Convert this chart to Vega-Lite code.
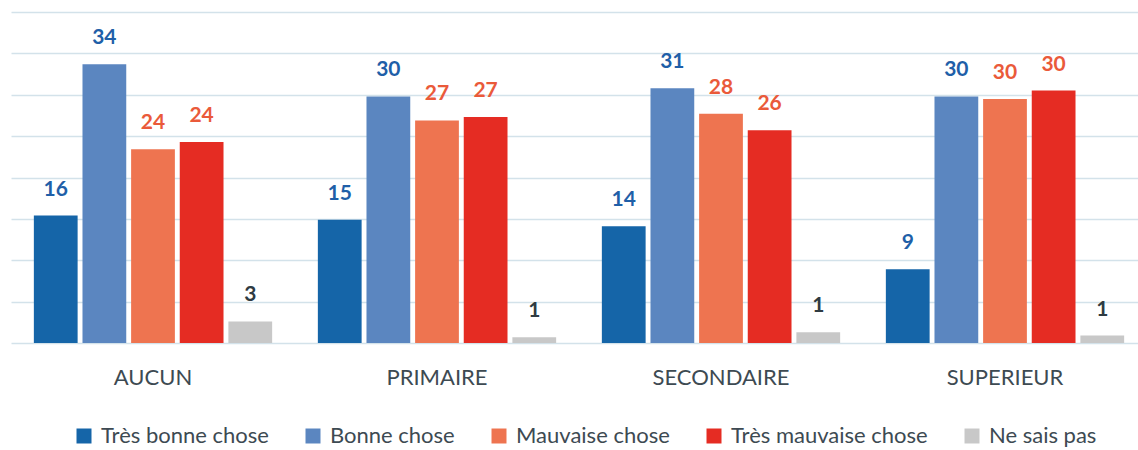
{
  "$schema": "https://vega.github.io/schema/vega-lite/v6.json",
  "width": 1127,
  "height": 331,
  "autosize": {"type": "none"},
  "padding": {"left": 11, "top": 12, "right": 0, "bottom": 107},
  "config": {"view": {"stroke": null}, "font": "Lato"},
  "data": {
    "values": [
      {"niveau": "AUCUN", "reponse": "Très bonne chose", "valeur": 15.4, "label": 16},
      {"niveau": "AUCUN", "reponse": "Bonne chose", "valeur": 33.7, "label": 34},
      {"niveau": "AUCUN", "reponse": "Mauvaise chose", "valeur": 23.4, "label": 24},
      {"niveau": "AUCUN", "reponse": "Très mauvaise chose", "valeur": 24.3, "label": 24},
      {"niveau": "AUCUN", "reponse": "Ne sais pas", "valeur": 2.6, "label": 3},
      {"niveau": "PRIMAIRE", "reponse": "Très bonne chose", "valeur": 14.9, "label": 15},
      {"niveau": "PRIMAIRE", "reponse": "Bonne chose", "valeur": 29.8, "label": 30},
      {"niveau": "PRIMAIRE", "reponse": "Mauvaise chose", "valeur": 26.9, "label": 27},
      {"niveau": "PRIMAIRE", "reponse": "Très mauvaise chose", "valeur": 27.3, "label": 27},
      {"niveau": "PRIMAIRE", "reponse": "Ne sais pas", "valeur": 0.7, "label": 1},
      {"niveau": "SECONDAIRE", "reponse": "Très bonne chose", "valeur": 14.1, "label": 14},
      {"niveau": "SECONDAIRE", "reponse": "Bonne chose", "valeur": 30.8, "label": 31},
      {"niveau": "SECONDAIRE", "reponse": "Mauvaise chose", "valeur": 27.7, "label": 28},
      {"niveau": "SECONDAIRE", "reponse": "Très mauvaise chose", "valeur": 25.7, "label": 26},
      {"niveau": "SECONDAIRE", "reponse": "Ne sais pas", "valeur": 1.3, "label": 1},
      {"niveau": "SUPERIEUR", "reponse": "Très bonne chose", "valeur": 8.9, "label": 9},
      {"niveau": "SUPERIEUR", "reponse": "Bonne chose", "valeur": 29.8, "label": 30},
      {"niveau": "SUPERIEUR", "reponse": "Mauvaise chose", "valeur": 29.5, "label": 30},
      {"niveau": "SUPERIEUR", "reponse": "Très mauvaise chose", "valeur": 30.5, "label": 30},
      {"niveau": "SUPERIEUR", "reponse": "Ne sais pas", "valeur": 0.9, "label": 1}
    ]
  },
  "encoding": {
    "x": {
      "field": "niveau",
      "type": "nominal",
      "sort": ["AUCUN", "PRIMAIRE", "SECONDAIRE", "SUPERIEUR"],
      "scale": {"range": [0, 1136], "paddingInner": 0, "paddingOuter": 0},
      "axis": {
        "title": null,
        "labelAngle": 0,
        "ticks": false,
        "domain": false,
        "labelFontSize": 22,
        "labelColor": "#3d4a52",
        "labelPadding": 24
      }
    },
    "xOffset": {
      "field": "reponse",
      "sort": ["Très bonne chose", "Bonne chose", "Mauvaise chose", "Très mauvaise chose", "Ne sais pas"],
      "scale": {"paddingInner": 0.1, "paddingOuter": 0.47}
    },
    "y": {
      "field": "valeur",
      "type": "quantitative",
      "scale": {"domain": [0, 40]},
      "axis": {
        "title": null,
        "values": [0, 5, 10, 15, 20, 25, 30, 35, 40],
        "labels": false,
        "ticks": false,
        "domain": false,
        "gridColor": "#d3e2ea",
        "gridWidth": 1.5
      }
    }
  },
  "layer": [
    {
      "mark": {"type": "bar"},
      "encoding": {
        "color": {
          "field": "reponse",
          "type": "nominal",
          "scale": {
            "domain": ["Très bonne chose", "Bonne chose", "Mauvaise chose", "Très mauvaise chose", "Ne sais pas"],
            "range": ["#1565a8", "#5b86c0", "#ee7450", "#e52c23", "#c8c8c8"]
          },
          "legend": {
            "title": null,
            "orient": "none",
            "legendX": 62,
            "legendY": 413,
            "direction": "horizontal",
            "symbolType": "square",
            "symbolSize": 225,
            "symbolStrokeWidth": 0,
            "labelFontSize": 22,
            "labelColor": "#3d4a52",
            "labelOffset": 6,
            "columnPadding": 33,
            "labelLimit": 400
          }
        }
      }
    },
    {
      "mark": {"type": "text", "baseline": "alphabetic", "dy": -20, "fontSize": 21, "fontWeight": "bold"},
      "encoding": {
        "text": {"field": "label", "type": "quantitative"},
        "color": {
          "field": "reponse",
          "type": "nominal",
          "scale": {
            "domain": ["Très bonne chose", "Bonne chose", "Mauvaise chose", "Très mauvaise chose", "Ne sais pas"],
            "range": ["#1f5fa8", "#1f5fa8", "#ea5a3a", "#ea5a3a", "#2f3b42"]
          },
          "legend": null
        }
      }
    }
  ],
  "resolve": {"scale": {"color": "independent"}}
}
